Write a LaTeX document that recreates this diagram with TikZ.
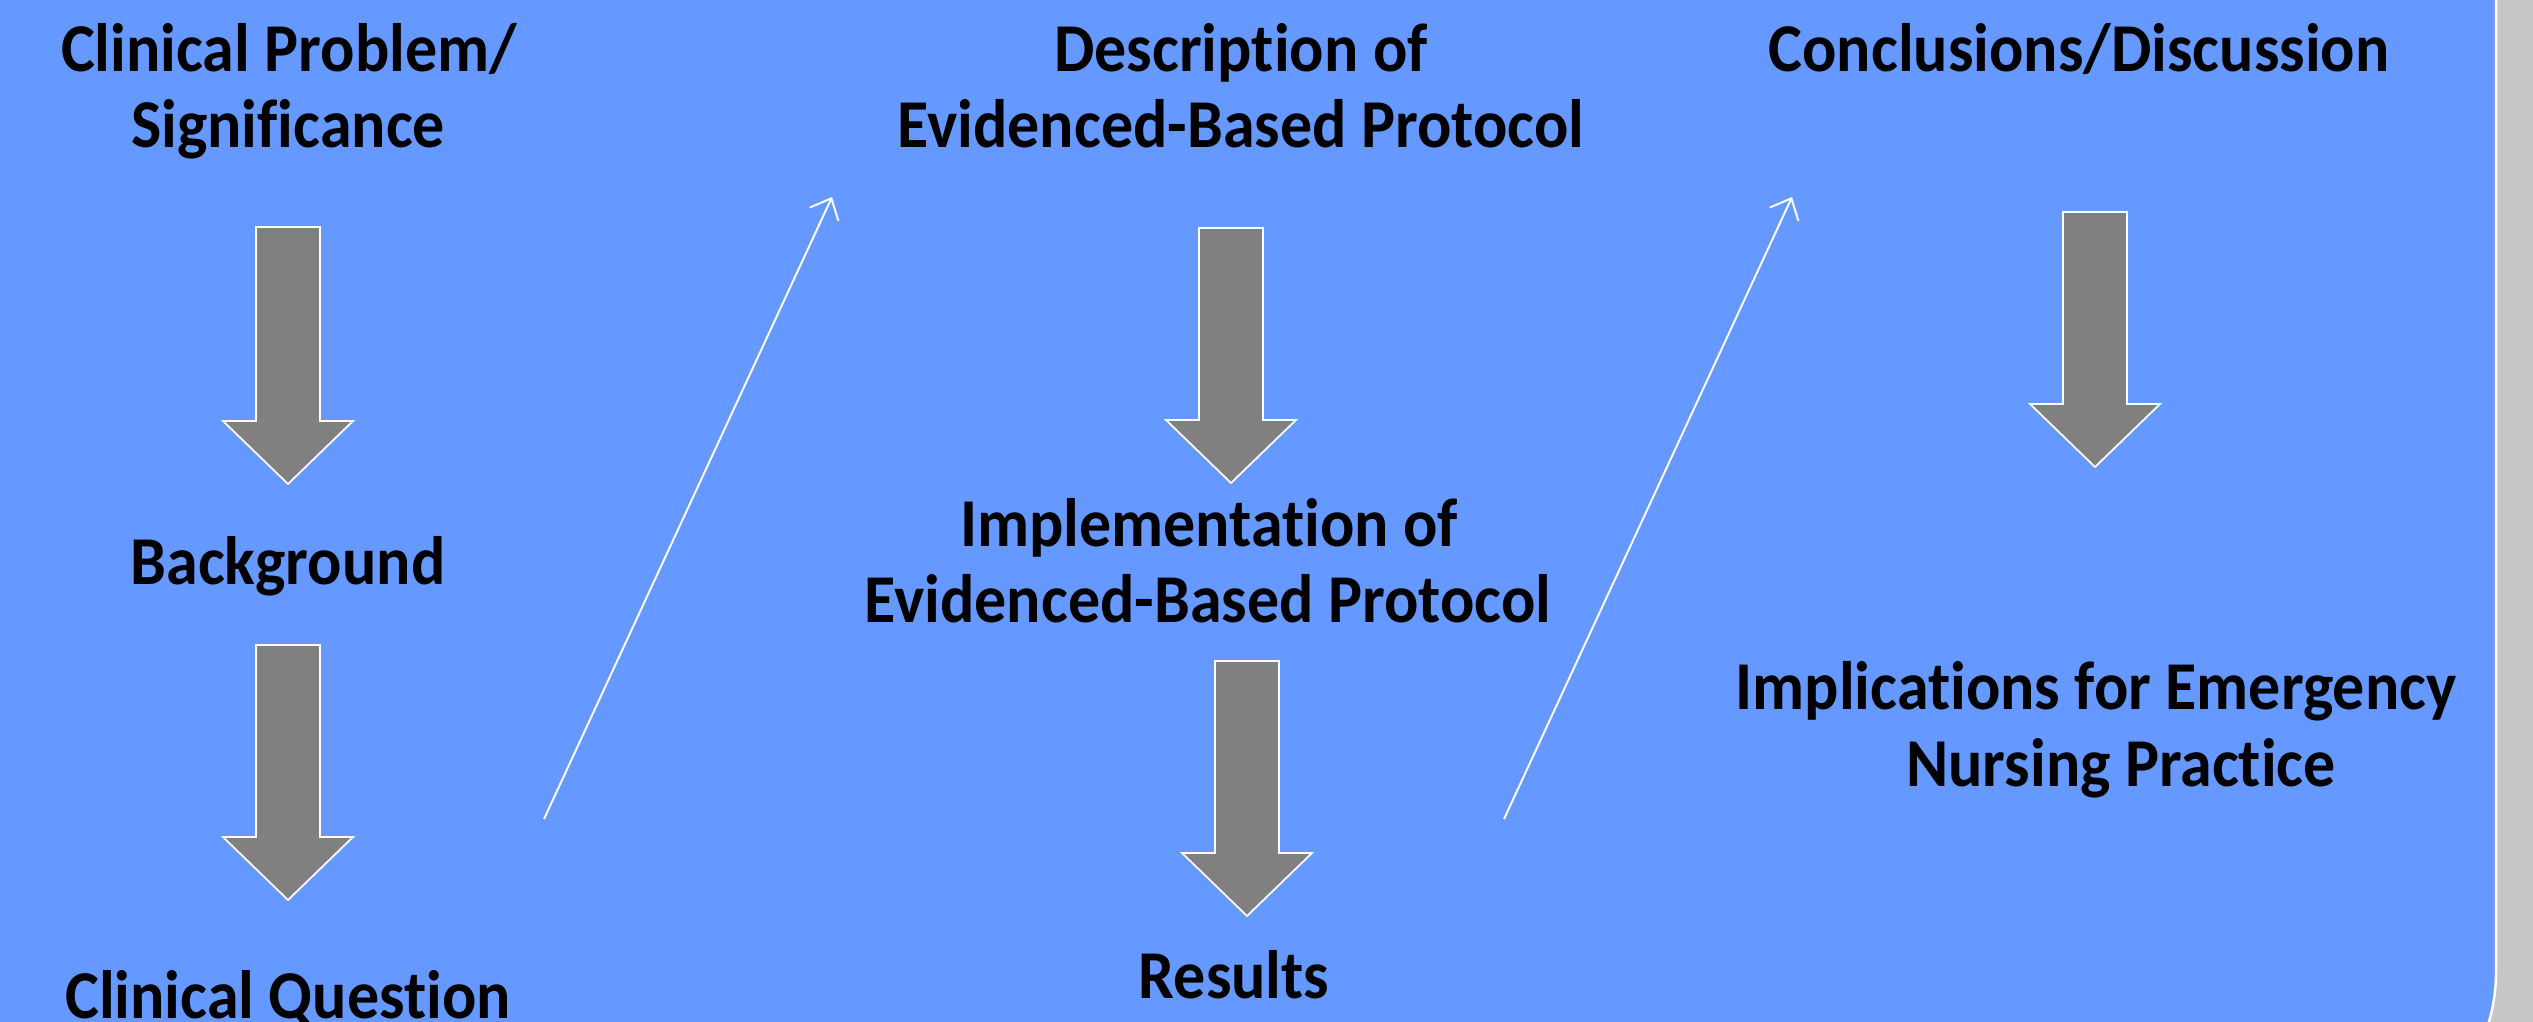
\documentclass[tikz,border=0pt]{standalone}
\usepackage{fontspec}
\setmainfont{Carlito}[Ligatures=NoCommon, Contextuals=NoAlternate]
\usetikzlibrary{arrows.meta}
\definecolor{panelblue}{HTML}{6699FF}
\definecolor{sidegray}{HTML}{C6C6C6}
\definecolor{arrowgray}{HTML}{808080}
\newcommand\tallt[1]{\scalebox{1}[1.07]{#1}}
\tikzset{
  lbl/.style={font=\fontsize{18.2}{22}\selectfont\bfseries, text=black, inner sep=0pt, anchor=base},
  blockarrow/.style={fill=arrowgray, draw=white, line width=0.5pt, line join=miter},
  thinarrow/.style={draw=white, line width=0.55pt, -{Straight Barb[length=5pt,width=9pt]}}
}
\newcommand\barrow[3]{% center x, top y, tip y
  \draw[blockarrow] (#1-32,#2) -- (#1+32,#2) -- (#1+32,#3-63) -- (#1+65,#3-63) -- (#1,#3)
    -- (#1-65,#3-63) -- (#1-32,#3-63) -- cycle;}
\begin{document}
\begin{tikzpicture}[x=0.01cm,y=-0.01cm]
\useasboundingbox (0,0) rectangle (2533,1022);
\fill[sidegray] (0,0) rectangle (2533,1022);
\draw[fill=panelblue, draw=white, line width=0.7pt, rounded corners=50pt] (-600,-800) rectangle (2496,1148);
% left column
\node[lbl] (cp1) at (289,72) {\tallt{Clinical Problem/}};
\node[lbl] (cp2) at (288,148) {\tallt{Significance}};
\node[lbl] (bg) at (288,585) {\tallt{Background}};
\node[lbl] (cq) at (288,1018) {\tallt{Clinical Question}};
% middle column
\node[lbl] (dp1) at (1241,72) {\tallt{Description of}};
\node[lbl] (dp2) at (1241,148) {\tallt{Evidenced-Based Protocol}};
\node[lbl] (ip1) at (1209,547) {\tallt{Implementation of}};
\node[lbl] (ip2) at (1208,623) {\tallt{Evidenced-Based Protocol}};
\node[lbl] (rs) at (1234,998) {\tallt{Results}};
% right column
\node[lbl] (cd) at (2079,72) {\tallt{Conclusions/Discussion}};
\node[lbl] (im1) at (2096,710) {\tallt{Implications for Emergency}};
\node[lbl] (im2) at (2121,787) {\tallt{Nursing Practice}};
% block arrows
\barrow{288}{227}{484}
\barrow{288}{645}{900}
\barrow{1231}{228}{483}
\barrow{1247}{661}{916}
\barrow{2095}{212}{467}
% thin arrows
\coordinate (t1s) at (544,819);
\coordinate (t1e) at (832,197);
\coordinate (t2s) at (1504,819);
\coordinate (t2e) at (1792,197);
\draw[thinarrow] (t1s) -- (t1e);
\draw[thinarrow] (t2s) -- (t2e);
\end{tikzpicture}
\end{document}
